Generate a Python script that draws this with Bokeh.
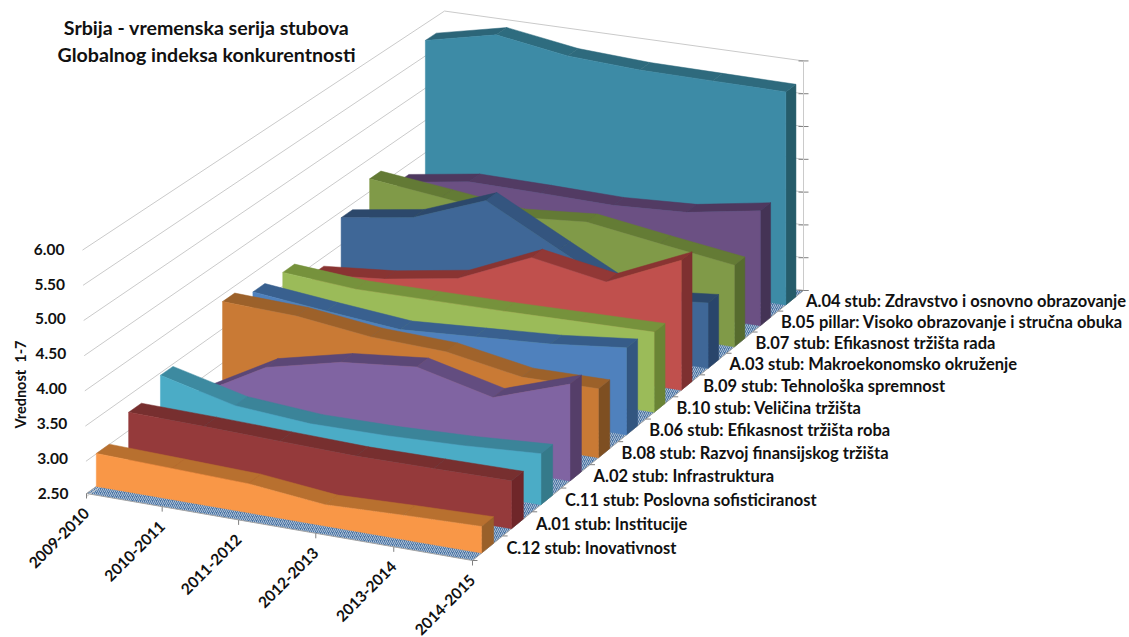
from bokeh.plotting import figure
from bokeh.embed import file_html
from bokeh.resources import INLINE
from bokeh.core.properties import value

# Category and value axes
years = ["2009-2010", "2010-2011", "2011-2012", "2012-2013", "2013-2014", "2014-2015"]
axis_ticks = [2.5, 3.0, 3.5, 4.0, 4.5, 5.0, 5.5, 6.0]
AXIS_MIN = 2.5

# Pillar scores, front row first
c12 = [2.97, 2.94, 2.91, 2.80, 2.84, 2.87]
a01 = [3.23, 3.21, 3.18, 3.15, 3.16, 3.17]
c11 = [3.44, 3.18, 3.10, 3.11, 3.15, 3.22]
a02 = [2.81, 3.41, 3.66, 3.77, 3.51, 3.88]
b08 = [3.88, 3.84, 3.71, 3.67, 3.48, 3.49]
b06 = [3.71, 3.60, 3.50, 3.57, 3.64, 3.76]
b10 = [3.69, 3.61, 3.62, 3.63, 3.65, 3.67]
b09 = [3.35, 3.45, 3.63, 4.11, 3.92, 4.41]
a03 = [3.90, 4.07, 4.49, 3.92, 3.36, 3.47]
b07 = [4.19, 4.07, 3.94, 4.03, 3.87, 3.72]
b05 = [3.84, 4.01, 4.00, 3.98, 4.04, 4.23]
a04 = [5.74, 5.98, 5.81, 5.75, 5.74, 5.73]

names = [
    "C.12 stub: Inovativnost", "A.01 stub: Institucije", "C.11 stub: Poslovna sofisticiranost",
    "A.02 stub: Infrastruktura", "B.08 stub: Razvoj finansijskog tržišta",
    "B.06 stub: Efikasnost tržišta roba", "B.10 stub: Veličina tržišta",
    "B.09 stub: Tehnološka spremnost", "A.03 stub: Makroekonomsko okruženje",
    "B.07 stub: Efikasnost tržišta rada", "B.05 pillar: Visoko obrazovanje i stručna obuka",
    "A.04 stub: Zdravstvo i osnovno obrazovanje",
]
scores = [c12, a01, c11, a02, b08, b06, b10, b09, a03, b07, b05, a04]

# Face, top and end-cap colours of each ribbon
face = ["#F99747", "#953A3B", "#4BACC6", "#8064A2", "#C97A35", "#4F81BD",
        "#9BBB59", "#C0504D", "#3F6797", "#809A48", "#6B5083", "#3D8BA6"]
top = ["#B8702F", "#772F2F", "#3B8499", "#5F4A7B", "#9C612A", "#39608F",
       "#76923C", "#8F3735", "#2E4B70", "#637A35", "#523B63", "#2E6A7D"]
side = ["#99602A", "#6F2629", "#357A8A", "#553E69", "#7E4F22", "#335680",
        "#6A8435", "#7E3030", "#29456B", "#566B2E", "#443355", "#265C6A"]

# Floor corners on the page: (time, depth) = (0,0), (1,0), (1,1), (0,1)
P00, P10, P11, P01 = (86, 493), (472, 560), (803, 290), (444, 235)
UNIT_PX = 70.4
GAP = 0.30


def _floor_coefficients():
    dx1, dx2 = P10[0] - P11[0], P01[0] - P11[0]
    sx = P00[0] - P10[0] + P11[0] - P01[0]
    dy1, dy2 = P10[1] - P11[1], P01[1] - P11[1]
    sy = P00[1] - P10[1] + P11[1] - P01[1]
    det = dx1 * dy2 - dx2 * dy1
    g = (sx * dy2 - dx2 * sy) / det
    h = (dx1 * sy - sx * dy1) / det
    return (P10[0] - P00[0] + g * P10[0], P01[0] - P00[0] + h * P01[0], P00[0],
            P10[1] - P00[1] + g * P10[1], P01[1] - P00[1] + h * P01[1], P00[1], g, h)


A, B, C, D, E, F, G, H = _floor_coefficients()


def project(t, s, v=AXIS_MIN):
    """Perspective projection of (time, depth, value) onto the page."""
    w = G * t + H * s + 1
    x = (A * t + B * s + C) / w
    y = (D * t + E * s + F) / w
    return x, y - (v - AXIS_MIN) * UNIT_PX / w


def shaded(colour, factor):
    r, g, b = [int(colour[i:i + 2], 16) for i in (1, 3, 5)]
    return "#%02X%02X%02X" % tuple(min(255, int(c * factor)) for c in (r, g, b))


p = figure(width=1129, height=637, x_range=(0, 1129), y_range=(637, 0),
           output_backend="svg", toolbar_location=None, min_border=0,
           background_fill_color="white", outline_line_color=None)
p.axis.visible = False
p.grid.visible = False
FONT = value("Lato")
GRID = "#CACACA"
TICK = "#808080"

# Hatched floor
floor = [P00, P10, P11, P01]
p.patch([q[0] for q in floor], [q[1] for q in floor], fill_color="#4A74A4", line_color="#A6A6A6",
        line_width=1, hatch_pattern="right_diagonal_line", hatch_scale=4, hatch_color="#FFFFFF",
        hatch_weight=1, hatch_alpha=0.55)

# Left and rear wall gridlines
for v in axis_ticks:
    x0, y0 = project(0, 0, v)
    lean = (v - AXIS_MIN) / 3.5 * 4
    xb, yb = project(0, 1, v)
    xr, yr = project(1, 1, v)
    p.line([x0 - lean, xb, xr], [y0 + 3, yb, yr], line_color=GRID, line_width=1)
    p.line([xr - 5, xr + 5], [yr, yr], line_color=TICK, line_width=1)
xt, yt = project(1, 1, axis_ticks[-1])
xf, yf = project(1, 1, AXIS_MIN)
p.line([xt, xf], [yt, yf], line_color=GRID, line_width=1)

# Floor tick marks along the time and depth edges
for k in range(len(years)):
    x, y = project(k / (len(years) - 1), 0)
    p.line([x, x], [y, y + 5], line_color=TICK, line_width=1)
for i in range(len(names) + 1):
    x, y = project(1, i / len(names))
    p.line([x, x + 5], [y, y], line_color=TICK, line_width=1)

# Ribbons, painted from the rear row to the front row
last = len(years) - 1
for i in reversed(range(len(names))):
    vals = scores[i]
    sf, sb = (i + GAP) / len(names), (i + 1 - GAP) / len(names)

    corners = [project(1, sf), project(1, sf, vals[last]), project(1, sb, vals[last]), project(1, sb)]
    p.patch([q[0] for q in corners], [q[1] for q in corners], fill_color=side[i],
            line_color=side[i], line_width=0.5)

    for k in range(last):
        t0, t1 = k / last, (k + 1) / last
        v0, v1 = vals[k], vals[k + 1]
        drop = v0 - v1
        factor = 1 + 0.3 * max(0, drop - 0.1) if drop > 0 else (0.96 if drop < -0.1 else 1)
        band = [project(t0, sf, v0), project(t1, sf, v1), project(t1, sb, v1), project(t0, sb, v0)]
        colour = shaded(top[i], factor)
        p.patch([q[0] for q in band], [q[1] for q in band], fill_color=colour,
                line_color=colour, line_width=0.5)

    front_top = [project(k / last, sf, vals[k]) for k in range(last + 1)]
    outline = [project(0, sf)] + front_top + [project(1, sf)]
    p.patch([q[0] for q in outline], [q[1] for q in outline], fill_color=face[i],
            line_color=face[i], line_width=0.5)

# Value axis labels
vx, vy, vt = [], [], []
for v in axis_ticks:
    x, y = project(0, 0, v)
    lift = (v - AXIS_MIN) / 3.5
    vx.append(x - 18 - lift * 4)
    vy.append(y + lift * 2)
    vt.append("%.2f" % v)
p.text(vx, vy, text=vt, text_font=FONT, text_font_style="bold", text_font_size="15.5px",
       text_color="#111111", text_align="right", text_baseline="middle")

# Time axis labels
tx, ty = [], []
for k in range(len(years)):
    x, y = project(k / last, 0)
    tx.append(x)
    ty.append(y + 17)
p.text(tx, ty, text=years, text_font=FONT, text_font_style="bold", text_font_size="15.5px",
       text_color="#111111", text_align="right", text_baseline="middle", angle=0.785)

# Pillar names along the depth edge
nx, ny = [], []
for i in range(len(names)):
    s = (i + 0.5) / len(names)
    x, y = project(1, s)
    nx.append(x + 19 - 4 * s)
    ny.append(y)
p.text(nx, ny, text=names, text_font=FONT, text_font_style="bold", text_font_size="16.5px",
       text_color="#111111", text_align="left", text_baseline="middle")

# Axis title and chart title
p.text([20], [384], text=["Vrednost\u00a0\u00a01-7"], text_font=FONT, text_font_style="bold",
       text_font_size="14.5px", text_color="#111111", text_align="center", text_baseline="middle",
       angle=1.5708)
p.text([206, 206], [27, 54], text=["Srbija - vremenska serija stubova", "Globalnog indeksa konkurentnosti"],
       text_font=FONT, text_font_style="bold", text_font_size="19.6px", text_color="#111111",
       text_align="center", text_baseline="middle")

open("out.html", "w").write(file_html(p, INLINE))
